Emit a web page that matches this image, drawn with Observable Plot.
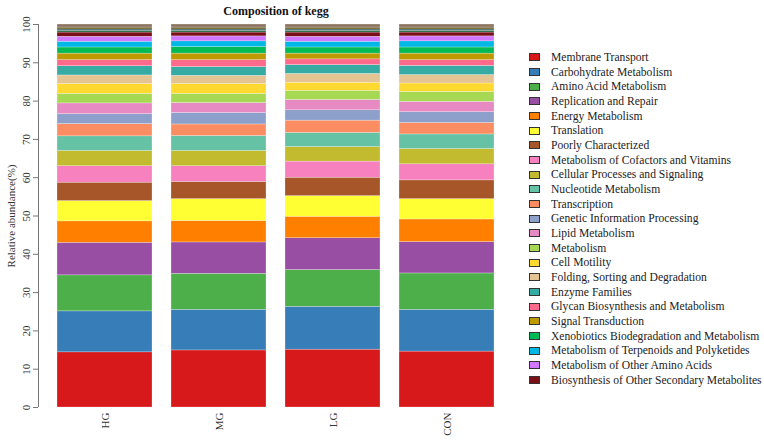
<!DOCTYPE html>
<html>
<head>
<meta charset="utf-8">
<script src="https://cdn.jsdelivr.net/npm/d3@7"></script>
<script src="https://cdn.jsdelivr.net/npm/@observablehq/plot@0.6"></script>
<style>
  body { margin: 0; background: #fff; }
  #wrap { position: relative; width: 764px; height: 442px; font-family: "Liberation Serif", "Times New Roman", serif; }
  #chart { position: absolute; left: 0; top: 0; }
  #title { position: absolute; left: 176px; width: 200px; top: 4px; text-align: center; font-weight: bold; font-size: 12px; color: #111; }
  #legend { position: absolute; left: 529px; top: 50px; }
  .item { height: 14.68px; display: flex; align-items: center; font-size: 11.6px; color: #222; white-space: nowrap; }
  .sw { width: 9px; height: 6px; border: 1px solid #333; margin-right: 11px; flex: none; }
</style>
</head>
<body>
<div id="wrap">
  <div id="chart"></div>
  <div id="title">Composition of kegg</div>
  <div id="legend"></div>
</div>
<script>
const groups = ["HG", "MG", "LG", "CON"];

const categories = [
  "Membrane Transport", "Carbohydrate Metabolism", "Amino Acid Metabolism", "Replication and Repair",
  "Energy Metabolism", "Translation", "Poorly Characterized", "Metabolism of Cofactors and Vitamins",
  "Cellular Processes and Signaling", "Nucleotide Metabolism", "Transcription", "Genetic Information Processing",
  "Lipid Metabolism", "Metabolism", "Cell Motility", "Folding, Sorting and Degradation",
  "Enzyme Families", "Glycan Biosynthesis and Metabolism", "Signal Transduction",
  "Xenobiotics Biodegradation and Metabolism", "Metabolism of Terpenoids and Polyketides",
  "Metabolism of Other Amino Acids", "Biosynthesis of Other Secondary Metabolites"
];
// thin unlabelled layers at the top of each bar (not in the legend)
const extraCategories = ["Other 1", "Other 2", "Other 3", "Other 4"];

const colors = [
  "#D7191C", "#377EB8", "#4DAF4A", "#984EA3", "#FF7F00", "#FFFF33", "#A65628", "#F781BF",
  "#C2BA2F", "#66C2A5", "#FC8D62", "#8DA0CB", "#E78AC3", "#A6D854", "#FFD92F", "#E5C494",
  "#36ABA3", "#FF6A8C", "#BE9A00", "#00BA55", "#00B8E5", "#D178FF", "#7A0F17"
];
const extraColors = ["#1F6038", "#2C5A5A", "#6E5A22", "#8E7563"];

const hgValues  = [14.4, 10.7, 9.4, 8.5, 5.6, 5.3, 4.8, 4.3, 4.0, 3.8, 3.2, 2.6, 2.8, 2.5, 2.6, 2.2, 2.4, 1.6, 1.7, 1.6, 1.5, 1.3, 1.1, 0.4, 0.4, 0.5, 0.8];
const mgValues  = [14.9, 10.6, 9.4, 8.2, 5.6, 5.7, 4.5, 4.1, 4.0, 3.9, 3.0, 3.0, 2.6, 2.4, 2.6, 2.1, 2.3, 1.8, 1.7, 1.7, 1.5, 1.3, 1.0, 0.4, 0.4, 0.5, 0.8];
const lgValues  = [15.1, 11.2, 9.6, 8.3, 5.6, 5.4, 4.8, 4.2, 3.8, 3.7, 3.2, 2.7, 2.7, 2.4, 2.1, 2.3, 2.3, 1.5, 1.5, 1.6, 1.5, 1.3, 1.1, 0.4, 0.4, 0.5, 0.8];
const conValues = [14.6, 10.9, 9.5, 8.2, 5.9, 5.3, 4.9, 4.2, 4.0, 3.8, 3.0, 2.8, 2.7, 2.6, 2.2, 2.2, 2.4, 1.5, 1.7, 1.6, 1.6, 1.3, 1.0, 0.4, 0.4, 0.5, 0.8];

const yTicks = [0, 10, 20, 30, 40, 50, 60, 70, 80, 90, 100];
const yLabel = "Relative abundance(%)";

const allCats = categories.concat(extraCategories);
const allColors = colors.concat(extraColors);
const seriesByGroup = [hgValues, mgValues, lgValues, conValues];
const table = [];
groups.forEach((g, gi) => {
  seriesByGroup[gi].forEach((v, ci) => table.push({group: g, category: allCats[ci], value: v}));
});

const chart = Plot.plot({
  width: 764,
  height: 442,
  marginLeft: 38,
  marginRight: 254,
  marginTop: 24,
  marginBottom: 35,
  style: {fontFamily: "'Liberation Serif', 'Times New Roman', serif", fontSize: "11px", color: "#333", background: "#fff"},
  x: {domain: groups, range: [56, 496], paddingInner: 0.163, paddingOuter: 0},
  y: {domain: [0, 100]},
  color: {domain: allCats, range: allColors},
  marks: [
    Plot.barY(table, {x: "group", y: "value", fill: "category", order: null, stroke: "#fff", strokeWidth: 0.5, strokeOpacity: 0.5, inset: 0}),
    Plot.axisY({ticks: yTicks, tickSize: 5, tickRotate: -90, tickPadding: 4, stroke: "#777", fill: "#333",
      label: yLabel, labelAnchor: "center", labelArrow: "none", labelOffset: 31}),
    Plot.axisX({tickSize: 0, tickRotate: -90, tickPadding: 5, fill: "#333", label: null})
  ]
});
document.getElementById("chart").appendChild(chart);

// y axis line along the value range
const ys = chart.scale("y");
d3.select(chart).append("line")
  .attr("x1", 38.5).attr("x2", 38.5)
  .attr("y1", ys.apply(yTicks[0])).attr("y2", ys.apply(yTicks[yTicks.length - 1]))
  .attr("stroke", "#777");

const legend = d3.select("#legend");
categories.forEach((c, i) => {
  const it = legend.append("div").attr("class", "item");
  it.append("div").attr("class", "sw").style("background", colors[i]);
  it.append("span").text(c);
});
</script>
</body>
</html>
